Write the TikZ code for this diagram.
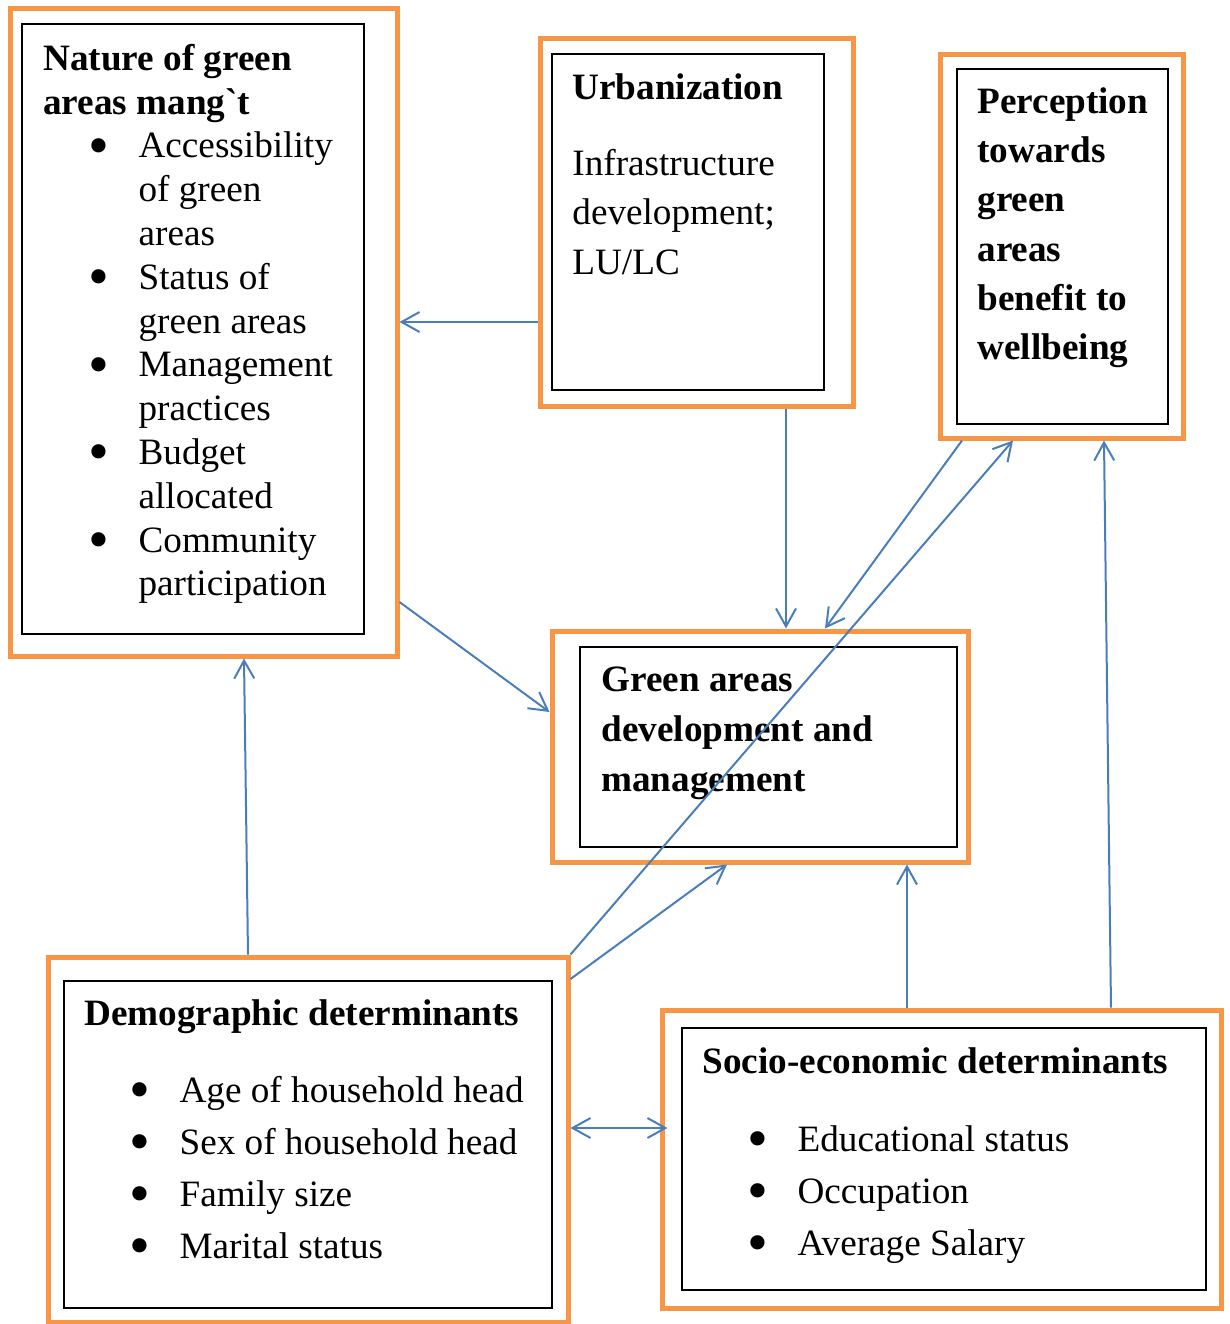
\documentclass[tikz,border=0pt]{standalone}
\usepackage{fontspec}
\setmainfont{Liberation Serif}
\usetikzlibrary{arrows.meta}
\usetikzlibrary{fit}
\definecolor{boxorange}{HTML}{F79646}
\definecolor{linkblue}{HTML}{4A7EBB}
\newcommand{\itm}[1]{\hspace*{28pt}\makebox[0pt]{\smash{\raisebox{-3.6pt}{\scalebox{1.6}{\textbullet}}}}\hspace*{19.6pt}#1}
\newcommand{\cnt}[1]{\hspace*{47.6pt}#1}

\begin{document}
\begin{tikzpicture}[x=0.5pt, y=-0.5pt]
\tikzset{outerbox/.style = {draw=boxorange, line width=2.5pt, inner sep=0pt}}
\tikzset{innerbox/.style = {draw=black, line width=.75pt, inner sep=0pt}}
\tikzset{txt/.style = {anchor=north west, inner sep=0pt, align=left}}
\tikzset{link/.style = {-{Straight Barb[length=9pt, width=10pt]}, draw=linkblue, line width=1pt}}

\useasboundingbox (0,0) rectangle (1230,1324);

% orange frames
\foreach \nm/\xa/\ya/\xb/\yb in {nat/10/8/397/656, urb/540/38/853/406, per/940/54/1183/438,
   grn/552/631/968/862, dem/48/957/568/1322, soc/662/1010/1221/1308}
   {\node[outerbox, fit={(\xa,\ya) (\xb,\yb)}] (\nm) {};}

% black frames
\foreach \nm/\xa/\ya/\xb/\yb in {nat/22/24/364/634, urb/552/54/824/390, per/957/69/1168/424,
   grn/580/647/957/847, dem/64/981/552/1308, soc/682/1028/1206/1290}
   {\node[innerbox, fit={(\xa,\ya) (\xb,\yb)}] (\nm-in) {};}

\node[txt, font=\fontsize{18.6}{21.9}\selectfont] (nat-txt) at (43,39.3)
   {\strut\textbf{Nature of green}\\ \textbf{areas mang\textasciigrave t}\\
    \itm{Accessibility}\\ \cnt{of green}\\ \cnt{areas}\\
    \itm{Status of}\\ \cnt{green areas}\\
    \itm{Management}\\ \cnt{practices}\\
    \itm{Budget}\\ \cnt{allocated}\\
    \itm{Community}\\ \cnt{participation}};

\node[txt, font=\fontsize{18.6}{24.65}\selectfont] (urb-txt) at (572,64.8)
   {\strut\textbf{Urbanization}\\[13.2pt] Infrastructure\\ development;\\ LU/LC};

\node[txt, font=\fontsize{18.6}{24.65}\selectfont] (per-txt) at (977,78.2)
   {\strut\textbf{Perception}\\ \textbf{towards}\\ \textbf{green}\\ \textbf{areas}\\
    \textbf{benefit to}\\ \textbf{wellbeing}};

\node[txt, font=\fontsize{18.6}{25}\selectfont] (grn-txt) at (601,656)
   {\strut\textbf{Green areas}\\ \textbf{development and}\\ \textbf{management}};

\node[txt, font=\fontsize{18.6}{26.1}\selectfont] (dem-txt) at (84,988.5)
   {\strut\textbf{Demographic determinants}\\[12.25pt]
    \itm{Age of household head}\\ \itm{Sex of household head}\\
    \itm{Family size}\\ \itm{Marital status}};

\node[txt, font=\fontsize{18.6}{26}\selectfont] (soc-txt) at (702,1036.6)
   {\strut\textbf{Socio-economic determinants}\\[13pt]
    \itm{Educational status}\\ \itm{Occupation}\\ \itm{Average Salary}};

% links
\draw[link] (urb.west |- 0,322) -- (nat.east |- 0,322);
\draw[link] (urb.south -| 786,0) -- (grn.north -| 786,0);
\draw[link] (nat.east |- 0,602) -- (grn.west |- 0,712);
\draw[link] (per.south -| 962,0) -- (grn.north -| 825,0);
\draw[link] (dem.north east) -- (per.south -| 1013,0);
\draw[link] (dem.east |- 0,979) -- (grn.south -| 727,0);
\draw[link] (dem.north -| 248,0) -- (nat.south -| 244,0);
\draw[link] (soc.north -| 907,0) -- (grn.south -| 907,0);
\draw[link] (soc.north -| 1111,0) -- (per.south -| 1104,0);
\draw[link, {Straight Barb[length=9pt, width=10pt]}-{Straight Barb[length=9pt, width=10pt]}, shorten >=-4pt]
   (dem.east |- 0,1128) -- (soc.west |- 0,1128);

\end{tikzpicture}
\end{document}
